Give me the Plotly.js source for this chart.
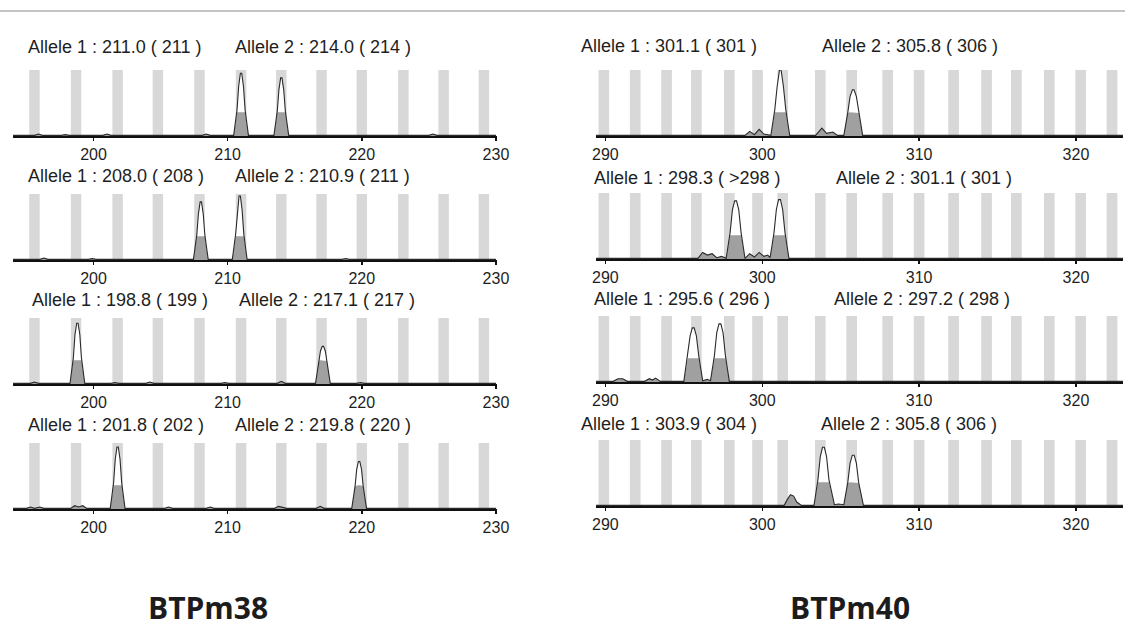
<!DOCTYPE html>
<html>
<head>
<meta charset="utf-8">
<script src="https://cdn.plot.ly/plotly-3.0.1.min.js"></script>
<style>html,body{margin:0;padding:0;background:#fff;}#chart{width:1125px;height:631px;}</style>
</head>
<body>
<div id="chart"></div>
<script>
// ---------- data ----------
const leftBins  = [195.6, 198.7, 201.8, 204.8, 207.9, 211.0, 214.0, 217.0, 220.0, 223.1, 226.1, 229.1];
const rightBins = [289.9, 291.9, 293.9, 295.8, 297.9, 299.7, 301.3, 303.7, 305.7, 308.0, 310.0, 312.2, 314.3, 316.2, 318.3, 320.3, 322.3];
const leftTicks  = [200, 210, 220, 230];
const rightTicks = [290, 300, 310, 320];

// BTPm38 panels (signal traces)
const L1x = [194, 195.6, 195.9, 196.2, 197.6, 197.9, 198.2, 200.7, 201.0, 201.3, 208.1, 208.4, 208.7, 210.45, 210.7, 210.82, 210.95, 211.05, 211.18, 211.3, 211.55, 213.45, 213.7, 213.82, 213.95, 214.05, 214.18, 214.3, 214.55, 225.0, 225.3, 225.6, 230];
const L1y = [.01, .01, .03, .01, .01, .02, .01, .01, .03, .01, .01, .03, .01, .01, .4, .75, .95, .95, .75, .4, .01, .01, .38, .7, .88, .88, .7, .38, .01, .01, .03, .01, .01];
const L2x = [194, 196.0, 196.3, 196.6, 199.6, 199.9, 200.2, 207.45, 207.7, 207.82, 207.95, 208.05, 208.18, 208.3, 208.55, 210.35, 210.6, 210.72, 210.85, 210.95, 211.08, 211.2, 211.45, 218.5, 218.8, 219.1, 222.6, 222.9, 223.2, 230];
const L2y = [.01, .01, .03, .01, .01, .02, .01, .01, .38, .7, .88, .88, .7, .38, .01, .01, .4, .75, .97, .97, .75, .4, .01, .01, .02, .01, .01, .02, .01, .01];
const L3x = [194, 195.3, 195.6, 195.9, 198.25, 198.5, 198.62, 198.75, 198.85, 198.98, 199.1, 199.35, 201.3, 201.6, 201.9, 203.9, 204.2, 204.5, 209.5, 209.8, 210.1, 213.7, 214.0, 214.3, 216.55, 216.8, 216.92, 217.05, 217.15, 217.28, 217.4, 217.65, 219.6, 219.9, 220.2, 225.5, 225.8, 226.1, 230];
const L3y = [.01, .01, .03, .01, .01, .4, .75, .92, .92, .75, .4, .01, .01, .02, .01, .01, .03, .01, .01, .02, .01, .01, .04, .01, .01, .35, .5, .57, .57, .5, .35, .01, .01, .02, .01, .01, .02, .01, .01];
const L4x = [194, 195.0, 195.3, 195.6, 196.0, 196.3, 198.3, 198.6, 198.9, 199.2, 199.5, 201.25, 201.5, 201.62, 201.75, 201.85, 201.98, 202.1, 202.35, 205.3, 205.6, 205.9, 208.4, 208.7, 209.0, 213.5, 213.8, 214.1, 214.4, 216.6, 216.9, 217.2, 219.25, 219.5, 219.62, 219.75, 219.85, 219.98, 220.1, 220.35, 225.6, 225.9, 226.2, 230];
const L4y = [.01, .01, .03, .01, .03, .01, .01, .05, .03, .05, .01, .01, .4, .75, .94, .94, .75, .4, .01, .01, .03, .01, .01, .03, .01, .01, .04, .02, .01, .01, .04, .01, .01, .35, .6, .72, .72, .6, .35, .01, .01, .02, .01, .01];

// BTPm40 panels
const R1x = [289.4, 298.9, 299.2, 299.5, 299.8, 300.1, 300.55, 300.8, 300.95, 301.1, 301.2, 301.35, 301.5, 301.75, 303.4, 303.8, 304.1, 304.5, 304.8, 305.2, 305.45, 305.6, 305.75, 305.85, 306.0, 306.15, 306.4, 323];
const R1y = [.01, .01, .07, .02, .1, .03, .01, .4, .75, 1.0, 1.0, .75, .4, .01, .01, .12, .04, .06, .01, .01, .35, .6, .7, .7, .6, .35, .01, .01];
const R2x = [289.4, 295.9, 296.2, 296.5, 296.8, 297.1, 297.4, 297.7, 297.95, 298.1, 298.24, 298.36, 298.5, 298.65, 298.9, 299.2, 299.5, 299.8, 300.1, 300.35, 300.5, 300.75, 300.9, 301.04, 301.16, 301.3, 301.45, 301.7, 323];
const R2y = [.01, .01, .1, .06, .08, .02, .04, .01, .4, .75, .88, .88, .75, .4, .01, .08, .03, .1, .04, .06, .02, .4, .75, .9, .9, .75, .4, .01, .01];
const R3x = [289.4, 290.5, 290.8, 291.1, 291.4, 292.5, 292.8, 293.0, 293.2, 293.5, 295.0, 295.25, 295.4, 295.54, 295.66, 295.8, 295.95, 296.2, 296.5, 296.7, 296.95, 297.1, 297.24, 297.36, 297.5, 297.65, 297.9, 323];
const R3y = [.01, .01, .05, .05, .01, .01, .05, .03, .06, .01, .01, .4, .7, .82, .82, .7, .4, .02, .04, .02, .4, .75, .88, .88, .75, .4, .01, .01];
const R4x = [289.4, 301.4, 301.6, 301.8, 302.0, 302.2, 302.5, 303.3, 303.55, 303.7, 303.84, 303.96, 304.1, 304.25, 304.6, 304.85, 305.2, 305.45, 305.6, 305.74, 305.86, 306.0, 306.15, 306.45, 323];
const R4y = [.01, .01, .1, .17, .15, .06, .01, .01, .4, .75, .89, .89, .75, .4, .02, .03, .02, .35, .65, .77, .77, .65, .35, .01, .01];

const leftAllele1  = ["Allele 1 : 211.0 ( 211 )", "Allele 1 : 208.0 ( 208 )", "Allele 1 : 198.8 ( 199 )", "Allele 1 : 201.8 ( 202 )"];
const leftAllele2  = ["Allele 2 : 214.0 ( 214 )", "Allele 2 : 210.9 ( 211 )", "Allele 2 : 217.1 ( 217 )", "Allele 2 : 219.8 ( 220 )"];
const rightAllele1 = ["Allele 1 : 301.1 ( 301 )", "Allele 1 : 298.3 ( >298 )", "Allele 1 : 295.6 ( 296 )", "Allele 1 : 303.9 ( 304 )"];
const rightAllele2 = ["Allele 2 : 305.8 ( 306 )", "Allele 2 : 301.1 ( 301 )", "Allele 2 : 297.2 ( 298 )", "Allele 2 : 305.8 ( 306 )"];
const markerNames = ["BTPm38", "BTPm40"];

// ---------- layout geometry (pixels) ----------
const W = 1125, H = 631;
const FILL_CAP = 0.36;
const panels = [
  {sx: L1x, sy: L1y, bins: leftBins, ticks: leftTicks, side: 'L', row: 0},
  {sx: L2x, sy: L2y, bins: leftBins, ticks: leftTicks, side: 'L', row: 1},
  {sx: L3x, sy: L3y, bins: leftBins, ticks: leftTicks, side: 'L', row: 2},
  {sx: L4x, sy: L4y, bins: leftBins, ticks: leftTicks, side: 'L', row: 3},
  {sx: R1x, sy: R1y, bins: rightBins, ticks: rightTicks, side: 'R', row: 0},
  {sx: R2x, sy: R2y, bins: rightBins, ticks: rightTicks, side: 'R', row: 1},
  {sx: R3x, sy: R3y, bins: rightBins, ticks: rightTicks, side: 'R', row: 2},
  {sx: R4x, sy: R4y, bins: rightBins, ticks: rightTicks, side: 'R', row: 3}
];
const geom = {
  L: {x0: 13, x1: 497.3, range: [194, 230.1], axisY: [136, 260, 384, 509], barW: 0.78,
      labY: [47, 176, 300, 425], lab1X: [26, 26, 30, 26], lab2X: [233, 233, 237, 233]},
  R: {x0: 596, x1: 1123, range: [289.4, 323], axisY: [136, 259, 382, 506], barW: 0.68,
      labY: [46, 178, 299, 424], lab1X: [579, 592, 592, 579], lab2X: [820, 834, 832, 819]}
};
const PANEL_H = 66;
const px2x = p => p / W;
const px2y = p => 1 - p / H;

const data = [];
const layout = {
  width: W, height: H,
  margin: {l: 0, r: 0, t: 0, b: 0},
  paper_bgcolor: '#ffffff', plot_bgcolor: 'rgba(0,0,0,0)',
  showlegend: false,
  annotations: [],
  shapes: [
    {type: 'line', xref: 'paper', yref: 'paper', x0: 0, x1: 1, y0: px2y(11), y1: px2y(11),
     line: {color: '#8a8a8a', width: 1}}
  ]
};

const labelFont = {family: 'Liberation Sans, Arial, sans-serif', size: 18, color: '#1e1e1e'};

panels.forEach((p, i) => {
  const n = i + 1;
  const xa = n === 1 ? 'x' : 'x' + n;
  const ya = n === 1 ? 'y' : 'y' + n;
  const g = geom[p.side];
  const axisY = g.axisY[p.row];

  // bins (grey marker bars)
  data.push({type: 'bar', x: p.bins, y: p.bins.map(() => 1), width: g.barW,
    marker: {color: '#d8d8d8', line: {width: 0}}, xaxis: xa, yaxis: ya, hoverinfo: 'skip'});
  // peak interior (white)
  data.push({type: 'scatter', mode: 'lines', x: p.sx, y: p.sy, fill: 'tozeroy',
    fillcolor: '#ffffff', line: {width: 0, color: 'rgba(0,0,0,0)'}, xaxis: xa, yaxis: ya, hoverinfo: 'skip'});
  // lower filled part of peaks
  data.push({type: 'scatter', mode: 'lines', x: p.sx, y: p.sy.map(v => Math.min(v, FILL_CAP)), fill: 'tozeroy',
    fillcolor: '#a0a0a0', line: {width: 0, color: 'rgba(0,0,0,0)'}, xaxis: xa, yaxis: ya, hoverinfo: 'skip'});
  // signal outline
  data.push({type: 'scatter', mode: 'lines', x: p.sx, y: p.sy,
    line: {width: 1.1, color: '#2a2a2a'}, xaxis: xa, yaxis: ya, hoverinfo: 'skip'});

  const xKey = n === 1 ? 'xaxis' : 'xaxis' + n;
  const yKey = n === 1 ? 'yaxis' : 'yaxis' + n;
  layout[xKey] = {
    domain: [px2x(g.x0), px2x(g.x1)], range: g.range, anchor: ya,
    showline: true, linecolor: '#111', linewidth: 1.5, mirror: false,
    ticks: 'outside', ticklen: 3, tickwidth: 1.5, tickcolor: '#111',
    tickvals: p.ticks, ticktext: p.ticks.map(String),
    tickfont: {family: 'Liberation Sans, Arial, sans-serif', size: 16, color: '#1e1e1e'},
    showgrid: false, zeroline: false, fixedrange: true
  };
  layout[yKey] = {
    domain: [px2y(axisY), px2y(axisY - PANEL_H)], range: [0, 1], anchor: xa,
    visible: false, showgrid: false, zeroline: false, fixedrange: true
  };
});

// allele labels
[['L', leftAllele1, leftAllele2], ['R', rightAllele1, rightAllele2]].forEach(([side, a1, a2]) => {
  const g = geom[side];
  for (let r = 0; r < 4; r++) {
    layout.annotations.push({xref: 'paper', yref: 'paper', x: px2x(g.lab1X[r]), y: px2y(g.labY[r]),
      xanchor: 'left', yanchor: 'middle', text: a1[r], showarrow: false, font: labelFont});
    layout.annotations.push({xref: 'paper', yref: 'paper', x: px2x(g.lab2X[r]), y: px2y(g.labY[r]),
      xanchor: 'left', yanchor: 'middle', text: a2[r], showarrow: false, font: labelFont});
  }
});

// marker names
const nameX = [208, 850];
markerNames.forEach((t, i) => {
  layout.annotations.push({xref: 'paper', yref: 'paper', x: px2x(nameX[i]), y: px2y(607),
    xanchor: 'center', yanchor: 'middle', text: '<b>' + t + '</b>', showarrow: false,
    font: {family: 'Open Sans, sans-serif', size: 30, color: '#1c1c1c'}});
});

Plotly.newPlot('chart', data, layout, {displayModeBar: false, staticPlot: true});
</script>
</body>
</html>
